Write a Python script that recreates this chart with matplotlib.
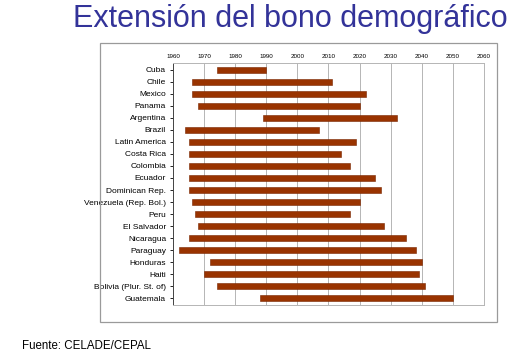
import matplotlib.pyplot as plt
from matplotlib.patches import Rectangle

paises = ["Cuba", "Chile", "Mexico", "Panama", "Argentina", "Brazil",
          "Latin America", "Costa Rica", "Colombia", "Ecuador",
          "Dominican Rep.", "Venezuela (Rep. Bol.)", "Peru", "El Salvador",
          "Nicaragua", "Paraguay", "Honduras", "Haiti",
          "Bolivia (Plur. St. of)", "Guatemala"]
inicio = [1974, 1966, 1966, 1968, 1989, 1964, 1965, 1965, 1965, 1965,
          1965, 1966, 1967, 1968, 1965, 1962, 1972, 1970, 1974, 1988]
fin = [1990, 2011, 2022, 2020, 2032, 2007, 2019, 2014, 2017, 2025,
       2027, 2020, 2017, 2028, 2035, 2038, 2040, 2039, 2041, 2050]
anios = list(range(1960, 2061, 10))

W, H = 521, 361
fig = plt.figure(figsize=(W / 100, H / 100), dpi=100)
plt.rcParams['font.family'] = ['Liberation Sans', 'DejaVu Sans']

# marco gris alrededor del grafico
fig.patches.append(Rectangle((100 / W, 1 - 322 / H), 397 / W, 279 / H,
                             transform=fig.transFigure, fill=False,
                             edgecolor='#9a9a9a', lw=0.9))

ax = fig.add_axes([173 / W, 1 - 305 / H, 311 / W, 242 / H])
y = list(range(len(paises)))
dur = [f - i for i, f in zip(inicio, fin)]
ax.barh(y, dur, left=inicio, height=0.5, color='#993300',
        edgecolor='#7a2600', lw=0.4, zorder=3)

ax.set_xlim(1960, 2060)
ax.set_ylim(len(paises) - 0.42, -0.58)
ax.set_xticks(anios)
ax.set_xticklabels([str(a) for a in anios], fontsize=4.5)
ax.xaxis.tick_top()
ax.tick_params(axis='x', length=0, pad=3)
ax.set_yticks(y)
ax.set_yticklabels(paises, fontsize=6)
ax.tick_params(axis='y', length=2, width=0.6, pad=3)
ax.grid(axis='x', color='#b5b5b5', lw=0.7, zorder=0)
for s in ['top', 'right', 'bottom']:
    ax.spines[s].set_color('#b5b5b5')
    ax.spines[s].set_linewidth(0.7)
ax.spines['left'].set_color('#444444')
ax.spines['left'].set_linewidth(0.7)

fig.text(290 / W, 1 - 19 / H, "Extensión del bono demográfico",
         ha='center', va='center', fontsize=22, color='#333399')
fig.text(22 / W, 1 - 346 / H, "Fuente: CELADE/CEPAL",
         ha='left', va='center', fontsize=8.3, color='black')

fig.savefig("out.png", dpi=100)
